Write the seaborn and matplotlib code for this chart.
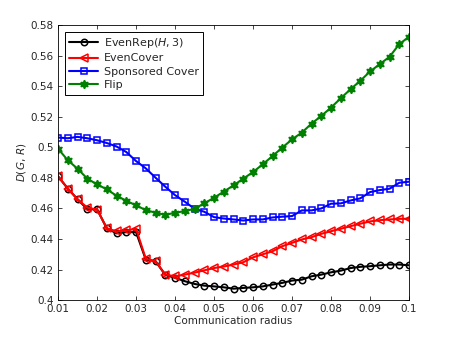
import numpy as np
import pandas as pd
import matplotlib
matplotlib.use("Agg")
import matplotlib.pyplot as plt
import seaborn as sns

radius = [0.01, 0.0125, 0.015, 0.0175, 0.02, 0.0225, 0.025, 0.0275, 0.03, 0.0325,
          0.035, 0.0375, 0.04, 0.0425, 0.045, 0.0475, 0.05, 0.0525, 0.055, 0.0575,
          0.06, 0.0625, 0.065, 0.0675, 0.07, 0.0725, 0.075, 0.0775, 0.08, 0.0825,
          0.085, 0.0875, 0.09, 0.0925, 0.095, 0.0975, 0.1]

even_rep = [0.481, 0.473, 0.466, 0.4595, 0.4595, 0.447, 0.4437, 0.4445, 0.4445, 0.4265,
            0.4255, 0.4165, 0.4146, 0.4124, 0.4106, 0.4095, 0.409, 0.4084, 0.4075, 0.408,
            0.4084, 0.409, 0.4102, 0.4113, 0.4128, 0.4134, 0.4156, 0.4167, 0.4182, 0.4193,
            0.421, 0.4218, 0.4222, 0.4228, 0.4233, 0.4233, 0.4228]

even_cover = [0.481, 0.473, 0.466, 0.4605, 0.4593, 0.447, 0.445, 0.4456, 0.4467, 0.427,
              0.4255, 0.4167, 0.4156, 0.4167, 0.418, 0.4195, 0.421, 0.422, 0.4233, 0.4248,
              0.428, 0.430, 0.432, 0.4353, 0.4375, 0.4397, 0.4412, 0.4434, 0.4451, 0.4467,
              0.4484, 0.45, 0.4515, 0.4523, 0.4528, 0.4532, 0.4532]

sponsored = [0.5064, 0.5059, 0.5068, 0.5059, 0.5046, 0.5028, 0.5005, 0.4969, 0.491, 0.4862,
             0.4801, 0.4742, 0.4687, 0.4644, 0.4598, 0.4578, 0.4543, 0.4534, 0.4528, 0.4521,
             0.4528, 0.4528, 0.4541, 0.4546, 0.455, 0.4587, 0.4587, 0.46, 0.4631, 0.4633,
             0.4652, 0.4666, 0.4707, 0.472, 0.4729, 0.4768, 0.4775]

flip = [0.4991, 0.4915, 0.486, 0.4795, 0.4757, 0.4725, 0.4683, 0.465, 0.462, 0.4589,
        0.4572, 0.4558, 0.4572, 0.4582, 0.4598, 0.4633, 0.467, 0.471, 0.4751, 0.4795,
        0.4838, 0.4889, 0.4943, 0.4998, 0.5052, 0.5096, 0.5155, 0.5205, 0.526, 0.5321,
        0.538, 0.5435, 0.5496, 0.5544, 0.5592, 0.5675, 0.5723]

x_ticks = [0.01, 0.02, 0.03, 0.04, 0.05, 0.06, 0.07, 0.08, 0.09, 0.1]
x_tick_labels = ["0.01", "0.02", "0.03", "0.04", "0.05", "0.06", "0.07", "0.08", "0.09", "0.1"]
y_ticks = [0.4, 0.42, 0.44, 0.46, 0.48, 0.5, 0.52, 0.54, 0.56, 0.58]
y_tick_labels = ["0.4", "0.42", "0.44", "0.46", "0.48", "0.5", "0.52", "0.54", "0.56", "0.58"]

sns.set_style("ticks")
plt.rcParams['font.family'] = ['DejaVu Sans']
plt.rcParams['mathtext.fontset'] = 'dejavusans'

fig = plt.figure(figsize=(4.5, 3.38), dpi=100)
ax = fig.add_axes([0.129, 0.112, 0.78, 0.814])

series = [
    ("EvenRep$(H,3)$", even_rep, "black", "o", "none", 4.6),
    ("EvenCover", even_cover, "red", "<", "none", 5.2),
    ("Sponsored Cover", sponsored, "blue", "s", "none", 4.4),
    ("Flip", flip, "#008000", (6, 1, 0), "#008000", 6.0),
]

for label, vals, col, mk, mfc, ms in series:
    sns.lineplot(x=radius, y=vals, ax=ax, color=col, marker=mk, markersize=ms,
                 markerfacecolor=mfc, markeredgecolor=col, markeredgewidth=1.1,
                 linewidth=1.5, label=label, errorbar=None)

ax.set_xlim(0.01, 0.1)
ax.set_ylim(0.4, 0.58)
ax.set_xticks(x_ticks)
ax.set_xticklabels(x_tick_labels)
ax.set_yticks(y_ticks)
ax.set_yticklabels(y_tick_labels)
ax.tick_params(direction="in", length=3, width=0.6, labelsize=7.5, top=True, right=True, pad=3)
for s in ax.spines.values():
    s.set_visible(True)
    s.set_linewidth(0.6)
    s.set_color("black")

ax.set_xlabel("Communication radius", fontsize=7.5, labelpad=1)
ax.set_ylabel("$D(G,\\,R)$", fontsize=7.5, labelpad=2)

leg = ax.legend(loc="upper left", fontsize=8, frameon=True, fancybox=False,
                edgecolor="black", framealpha=1, borderpad=0.4, labelspacing=0.3,
                handlelength=2.6, handletextpad=0.5, borderaxespad=0.6)
leg.get_frame().set_linewidth(0.7)

fig.savefig("out.png", dpi=100)
